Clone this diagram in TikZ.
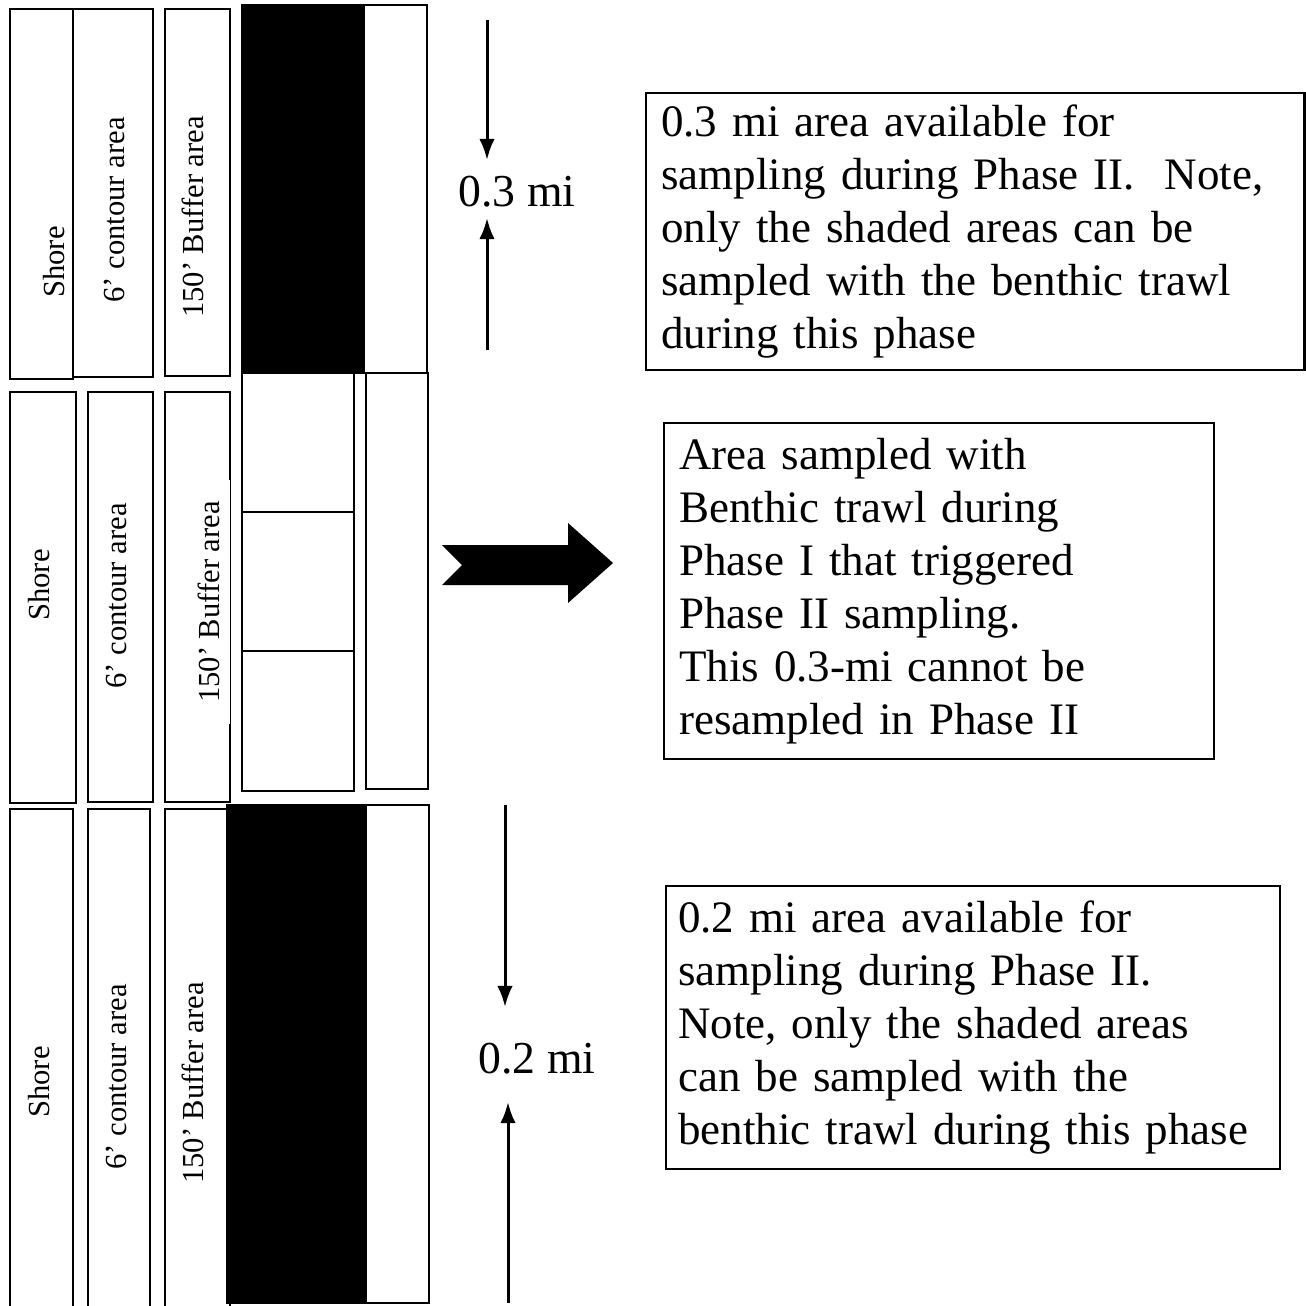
\documentclass[tikz,border=0pt]{standalone}
\usepackage{fontspec}
\setmainfont{Liberation Serif}
\usetikzlibrary{arrows.meta}

\begin{document}
\begin{tikzpicture}[x=0.01cm,y=-0.01cm,>={Latex[length=6pt,width=4.4pt]},
  strip/.style={draw,line width=0.7pt},
  stripname/.style={rotate=90,inner sep=1pt,font=\fontsize{8.7}{10}\selectfont},
  milabel/.style={inner sep=0pt,font=\fontsize{13}{15}\selectfont},
  dimline/.style={->,line width=0.85pt},
  notebox/.style={draw,line width=0.6pt,anchor=north west,align=left,inner xsep=0.15cm,
    font=\fontsize{12.8}{15.1}\selectfont}]
  \clip (0,0) rectangle (1306,1306);

  % upper reach
  \draw[strip] (10,9) rectangle (73,379);
  \draw[strip] (73,9) rectangle (153,377);
  \draw[strip] (165,9) rectangle (230,376);
  \fill (242,5) rectangle (365,373);
  \draw[strip] (242,5) rectangle (427,373);
  \node[stripname] (shoreA) at (54,262) {Shore};
  \node[stripname] (contA) at (114,210) {6’ contour area};
  \node[stripname] (bufA) at (193,217) {150’ Buffer area};

  % middle reach (Phase I tows)
  \draw[strip] (10,392) rectangle (76,803);
  \draw[strip] (88,392) rectangle (153,802);
  \draw[strip] (165,392) rectangle (230,802);
  \foreach \ya/\yb in {373/512,512/651,651/791}
    \draw[strip] (242,\ya) rectangle (354,\yb);
  \draw[strip] (366,373) rectangle (428,789);
  \node[stripname] (shoreB) at (39,585) {Shore};
  \node[stripname] (contB) at (116,596) {6’ contour area};
  \node[stripname,fill=white,inner xsep=6pt,inner ysep=3pt] (bufB) at (209,602) {150’ Buffer area};

  % lower reach
  \draw[strip] (10,809) rectangle (73,1320);
  \draw[strip] (88,809) rectangle (150,1320);
  \draw[strip] (165,809) rectangle (230,1320);
  \fill (227,805) rectangle (367,1303);
  \draw[strip] (227,805) rectangle (429,1303);
  \node[stripname] (shoreC) at (39,1082) {Shore};
  \node[stripname] (contC) at (116,1077) {6’ contour area};
  \node[stripname] (bufC) at (193,1083) {150’ Buffer area};

  % distances
  \node[milabel] (dimA) at (517,192) {0.3 mi};
  \coordinate (dimAin) at (487,20);
  \coordinate (dimAup) at (487,160);
  \coordinate (dimAout) at (487,350);
  \coordinate (dimAdn) at (487,218);
  \draw[dimline] (dimAin) -- (dimAup);
  \draw[dimline] (dimAout) -- (dimAdn);
  \node[milabel] (dimC) at (537,1059) {0.2 mi};
  \coordinate (dimCin) at (505,805);
  \coordinate (dimCup) at (505,1007);
  \coordinate (dimCout) at (508,1303);
  \coordinate (dimCdn) at (508,1102);
  \draw[dimline] (dimCin) -- (dimCup);
  \draw[dimline] (dimCout) -- (dimCdn);

  % block arrow
  \fill (442,545) -- (568,545) -- (568,523) -- (613,563) -- (568,603) -- (568,585)
    -- (442,585) -- (462,565) -- cycle;

  % notes
  \node[notebox,text width=6.28cm,minimum height=2.70cm] (noteA) at (645,92)
    {0.3 mi area available for\\ sampling during Phase II.\ \ Note,\\ only the shaded areas can be\\ sampled with the benthic trawl\\ during this phase};
  \node[notebox,text width=5.20cm,minimum height=3.36cm] (noteB) at (663,422)
    {Area sampled with\\ Benthic trawl during\\ Phase I that triggered\\ Phase II sampling.\\ This 0.3-mi cannot be\\ resampled in Phase II};
  \node[notebox,text width=5.90cm,inner xsep=0.12cm,minimum height=2.83cm] (noteC) at (665,885)
    {0.2 mi area available for\\ sampling during Phase II.\\ Note, only the shaded areas\\ can be sampled with the\\ benthic trawl during this phase};
\end{tikzpicture}
\end{document}
